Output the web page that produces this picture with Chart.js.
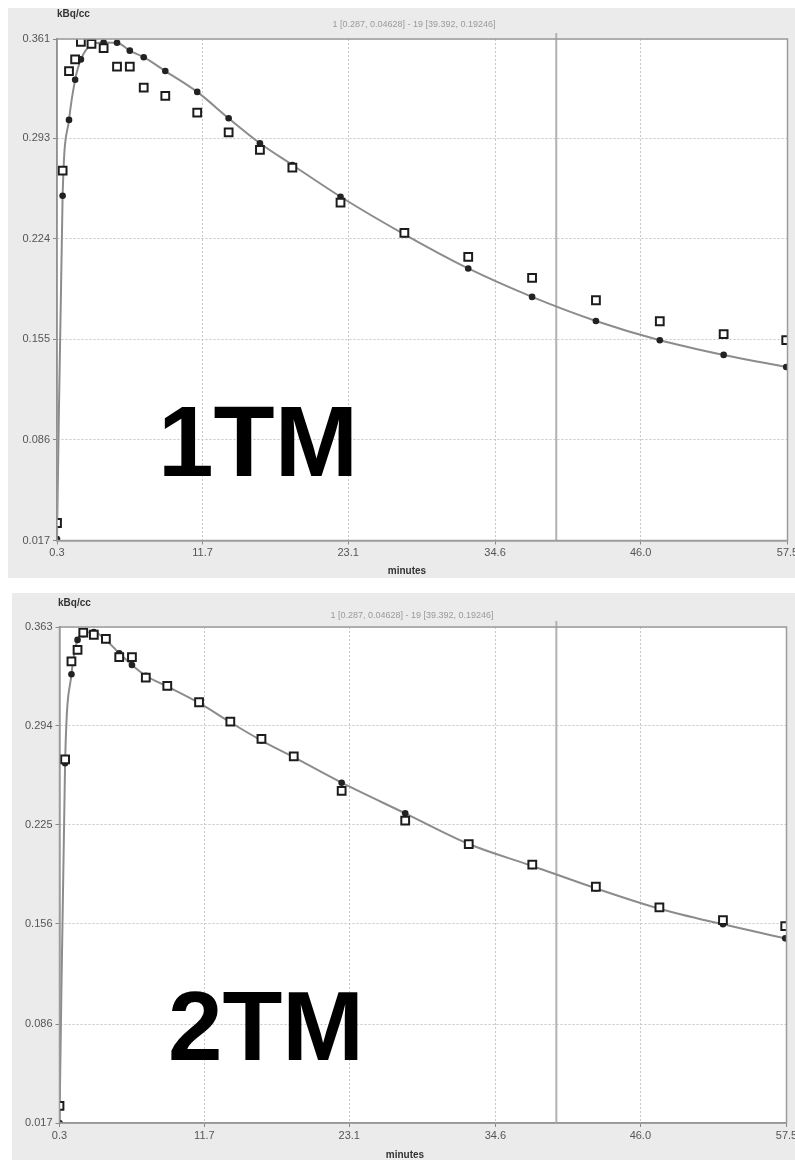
<!DOCTYPE html>
<html>
<head>
<meta charset="utf-8">
<script src="https://cdn.jsdelivr.net/npm/chart.js@4.4.1/dist/chart.umd.min.js"></script>
<style>
  body { margin: 0; background: #fff; width: 795px; height: 1160px; position: relative; overflow: hidden; font-family: 'Liberation Sans', Arial, sans-serif; }
  .panel { position: absolute; background: #ebebeb; }
  #p1 { left: 8px; top: 8px; width: 787px; height: 570px; }
  #p2 { left: 12px; top: 593px; width: 783px; height: 567px; }
  .big { position: absolute; font-weight: bold; line-height: 1; font-family: 'Liberation Sans', Arial, sans-serif; color: #000; white-space: nowrap; }
</style>
</head>
<body>
<div class="panel" id="p1"><canvas id="c1"></canvas></div>
<div class="panel" id="p2"><canvas id="c2"></canvas></div>
<div class="big" style="left:158px;top:391px;font-size:100px">1TM</div>
<div class="big" style="left:168px;top:977px;font-size:98px">2TM</div>
<script>
// frame mid times (minutes)
const times = [0.3, 0.74, 1.24, 1.72, 2.17, 3.0, 3.95, 5.0, 6.0, 7.09, 8.78, 11.28, 13.74, 16.19, 18.73, 22.5, 27.5, 32.5, 37.5, 42.5, 47.5, 52.5, 57.4];
// measured TAC (squares), same in both panels
const measured = [0.029, 0.2707, 0.339, 0.347, 0.359, 0.3576, 0.3547, 0.342, 0.342, 0.3277, 0.322, 0.3105, 0.297, 0.2849, 0.2727, 0.2487, 0.228, 0.2116, 0.1972, 0.1818, 0.1674, 0.1585, 0.1544];
// fitted curves (dots + line)
const model1TM = [0.018, 0.2535, 0.3055, 0.333, 0.347, 0.357, 0.3586, 0.3584, 0.353, 0.3485, 0.339, 0.3247, 0.3066, 0.2895, 0.2746, 0.2528, 0.227, 0.2036, 0.1841, 0.1676, 0.1544, 0.1443, 0.136];
const model2TM = [0.017, 0.268, 0.330, 0.354, 0.358, 0.3595, 0.354, 0.3447, 0.3365, 0.329, 0.3215, 0.310, 0.2965, 0.2838, 0.2722, 0.2544, 0.233, 0.2116, 0.1963, 0.1807, 0.1665, 0.1556, 0.1458];

const xTicks = [0.3, 11.7, 23.1, 34.6, 46.0, 57.5];
const yTicks1TM = [0.017, 0.086, 0.155, 0.224, 0.293, 0.361];
const yTicks2TM = [0.017, 0.086, 0.156, 0.225, 0.294, 0.363];

const headerText = '1 [0.287, 0.04628] - 19 [39.392, 0.19246]';
const cursorX = 39.392;
const yUnit = 'kBq/cc';
const xUnit = 'minutes';

const FONT = "'Liberation Sans', Arial, sans-serif";

const toXY = ys => times.map((t, i) => ({ x: t, y: ys[i] }));

const panelDeco = {
  id: 'panelDeco',
  beforeDraw(chart) {
    const { ctx, chartArea: a } = chart;
    ctx.save();
    ctx.fillStyle = '#fff';
    ctx.fillRect(a.left, a.top, a.right - a.left, a.bottom - a.top);
    ctx.restore();
  },
  beforeDatasetsDraw(chart) {
    const { ctx, chartArea: a, scales } = chart;
    const px = scales.x.getPixelForValue(cursorX);
    ctx.save();
    ctx.strokeStyle = '#b2b2b2';
    ctx.lineWidth = 2;
    ctx.beginPath();
    ctx.moveTo(px, a.top - 6);
    ctx.lineTo(px, a.bottom);
    ctx.stroke();
    ctx.restore();
  },
  afterDraw(chart, args, opts) {
    const { ctx, chartArea: a } = chart;
    ctx.save();
    ctx.strokeStyle = '#9c9c9c';
    ctx.lineWidth = 1.5;
    ctx.strokeRect(a.left, a.top, a.right - a.left, a.bottom - a.top);
    ctx.textBaseline = 'middle';
    ctx.fillStyle = '#333';
    ctx.font = 'bold 10px ' + FONT;
    ctx.textAlign = 'left';
    ctx.fillText(yUnit, opts.unitX, opts.unitY);
    ctx.textAlign = 'center';
    ctx.fillText(xUnit, opts.xUnitX, opts.xUnitY);
    ctx.fillStyle = '#9a9a9a';
    ctx.font = '9px ' + FONT;
    ctx.fillText(headerText, opts.headX, opts.headY);
    ctx.restore();
  }
};

function makeChart(id, model, yTicks, box) {
  return new Chart(document.getElementById(id).getContext('2d'), {
    type: 'scatter',
    data: {
      datasets: [
        {
          label: 'measured',
          data: toXY(measured),
          showLine: false,
          pointStyle: 'rect',
          pointRadius: 5.5,
          pointBackgroundColor: '#fff',
          pointBorderColor: '#1c1c1c',
          pointBorderWidth: 2,
          order: 0
        },
        {
          label: 'model',
          data: toXY(model),
          showLine: true,
          borderColor: '#8c8c8c',
          borderWidth: 2,
          cubicInterpolationMode: 'monotone',
          pointRadius: 3.3,
          pointBackgroundColor: '#222',
          pointBorderColor: '#222',
          pointBorderWidth: 0,
          order: 1
        }
      ]
    },
    options: {
      responsive: true,
      maintainAspectRatio: false,
      animation: false,
      layout: { padding: { left: 0, top: box.top, right: box.right, bottom: 0 } },
      plugins: {
        legend: { display: false },
        tooltip: { enabled: false },
        panelDeco: box.text
      },
      scales: {
        x: {
          type: 'linear',
          min: 0.3,
          max: 57.5,
          afterBuildTicks: s => { s.ticks = xTicks.map(v => ({ value: v })); },
          afterFit: s => { s.height = box.xHeight; s.paddingLeft = 0; s.paddingRight = 0; },
          ticks: { callback: v => Number(v).toFixed(1), color: '#555', font: { family: FONT, size: 11 }, padding: 2, maxRotation: 0, autoSkip: false },
          grid: { color: '#c6c6c6', lineWidth: 1, tickLength: 4, tickColor: '#888' },
          border: { color: '#808080', width: 1.5, dash: [2, 2] }
        },
        y: {
          type: 'linear',
          min: yTicks[0],
          max: yTicks[yTicks.length - 1],
          afterBuildTicks: s => { s.ticks = yTicks.map(v => ({ value: v })); },
          afterFit: s => { s.width = box.yWidth; s.paddingTop = 0; s.paddingBottom = 0; },
          ticks: { callback: v => Number(v).toFixed(3), color: '#555', font: { family: FONT, size: 11 }, padding: 3, autoSkip: false },
          grid: { color: '#c6c6c6', lineWidth: 1, tickLength: 4, tickColor: '#888' },
          border: { color: '#707070', width: 1.5, dash: [2, 2] }
        }
      }
    },
    plugins: [panelDeco]
  });
}

window.onload = () => {
  makeChart('c1', model1TM, yTicks1TM, {
    top: 31, right: 4.5, yWidth: 49, xHeight: 37.5,
    text: { unitX: 49, unitY: 6, headX: 406, headY: 17, xUnitX: 399, xUnitY: 563 }
  });
  makeChart('c2', model2TM, yTicks2TM, {
    top: 34, right: 8.5, yWidth: 47.5, xHeight: 37,
    text: { unitX: 46, unitY: 10, headX: 400, headY: 23, xUnitX: 393, xUnitY: 562 }
  });
};
</script>
</body>
</html>
